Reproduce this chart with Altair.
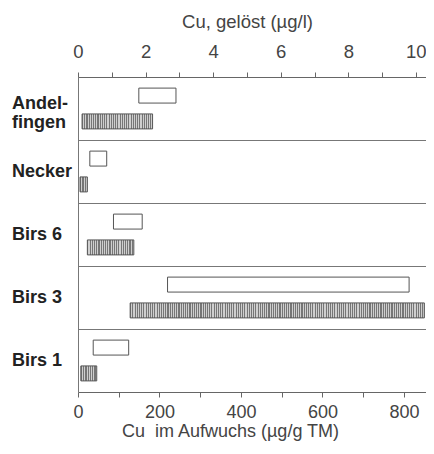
import altair as alt
import pandas as pd

sites = ["Andelfingen", "Necker", "Birs 6", "Birs 3", "Birs 1"]
site_labels = ["Andel-\nfingen", "Necker", "Birs 6", "Birs 3", "Birs 1"]
geloest_min = [1.8, 0.35, 1.05, 2.65, 0.45]
geloest_max = [2.9, 0.85, 1.9, 9.8, 1.5]
aufwuchs_min = [10, 5, 23, 128, 7]
aufwuchs_max = [183, 23, 137, 850, 46]

top_ticks = list(range(0, 11))
bottom_ticks = list(range(0, 900, 100))

W, H = 348, 315
TOP_MAX = 10.30
BOT_MAX = 854
FONT = "Liberation Sans"

df_g = pd.DataFrame({"site": sites, "lo": geloest_min, "hi": geloest_max, "typ": "gelöst"})
df_a = pd.DataFrame({"site": sites, "lo": aufwuchs_min, "hi": aufwuchs_max, "typ": "Aufwuchs"})
df_t1 = pd.DataFrame({"site": sites[1:], "label": site_labels[1:]})
df_t2 = pd.DataFrame({"site": sites[:1], "label": site_labels[:1]})


def stripes(n, dark="#767676", light="#cfcfcf", frac=0.5):
    stops = []
    for k in range(n):
        a = k / n
        b = (k + frac) / n
        c = (k + 1) / n
        stops += [
            {"offset": a, "color": dark},
            {"offset": b, "color": dark},
            {"offset": b, "color": light},
            {"offset": c, "color": light},
        ]
    return {"gradient": "linear", "x1": 0, "y1": 0, "x2": 1, "y2": 0, "stops": stops}


conds = []
for s, lo, hi in zip(sites, aufwuchs_min, aufwuchs_max):
    px = (hi - lo) * W / BOT_MAX
    n = max(1, round(px / 2.2))
    conds.append({"test": f"datum.site === '{s}'", "value": stripes(n)})
hatch_fill = {"condition": conds, "value": "#999999"}

yenc = alt.Y(
    "site:N",
    sort=sites,
    scale=alt.Scale(domain=sites, paddingInner=0, paddingOuter=0),
    axis=alt.Axis(
        title=None, labels=False, ticks=False, grid=True, bandPosition=0,
        gridColor="#777777", gridWidth=1, domainColor="#777777", domainWidth=1,
    ),
)
yoff = alt.YOffset(
    "typ:N",
    scale=alt.Scale(domain=["gelöst", "Aufwuchs"], paddingInner=0.42, paddingOuter=0.43),
)

axis_common = dict(
    grid=False, domainColor="#666666", tickColor="#666666", labelColor="#444444",
    labelFont=FONT, titleFont=FONT, titleFontWeight="normal", titleColor="#444444",
    tickSize=5, labelFlush=False,
)

top_bars = alt.Chart(df_g).mark_bar(fill="white", stroke="#555555", strokeWidth=1).encode(
    x=alt.X(
        "lo:Q",
        scale=alt.Scale(domain=[0, TOP_MAX], nice=False, zero=True),
        axis=alt.Axis(
            orient="top", values=top_ticks, title="Cu, gelöst (µg/l)",
            labelExpr="datum.value % 2 == 0 ? datum.label : ''",
            labelFontSize=18.5, titleFontSize=18.5,
            labelPadding=11, titlePadding=11, titleX=169, **axis_common,
        ),
    ),
    x2="hi:Q",
    y=yenc,
    yOffset=yoff,
)

bottom_bars = alt.Chart(df_a).mark_bar(stroke="#555555", strokeWidth=1).encode(
    x=alt.X(
        "lo:Q",
        scale=alt.Scale(domain=[0, BOT_MAX], nice=False, zero=True),
        axis=alt.Axis(
            orient="bottom", values=bottom_ticks, title="Cu\u00a0 im Aufwuchs (µg/g TM)",
            labelExpr="datum.value % 200 == 0 ? datum.label : ''",
            labelFontSize=18, titleFontSize=18,
            labelPadding=6, titlePadding=1, titleX=152, **axis_common,
        ),
    ),
    x2="hi:Q",
    y=yenc,
    yOffset=yoff,
    fill=hatch_fill,
)

label_style = dict(
    align="left", baseline="middle", font=FONT,
    fontSize=18, fontWeight="bold", color="#222222",
)

labels1 = alt.Chart(df_t1).mark_text(**label_style).encode(
    y=alt.Y("site:N", sort=sites),
    x=alt.value(-66),
    text="label:N",
)
labels2 = alt.Chart(df_t2).mark_text(lineBreak="\n", lineHeight=19, dy=-5, **label_style).encode(
    y=alt.Y("site:N", sort=sites),
    x=alt.value(-66),
    text="label:N",
)

chart = (
    alt.layer(bottom_bars, top_bars, labels1, labels2)
    .resolve_scale(x="independent")
    .properties(
        width=W, height=H,
        autosize=alt.AutoSizeParams(type="none"),
        padding={"left": 70, "top": 69, "right": 0, "bottom": 54},
    )
    .configure_view(stroke=None)
)

chart.save("out.html", embed_options={"renderer": "svg", "actions": False})
